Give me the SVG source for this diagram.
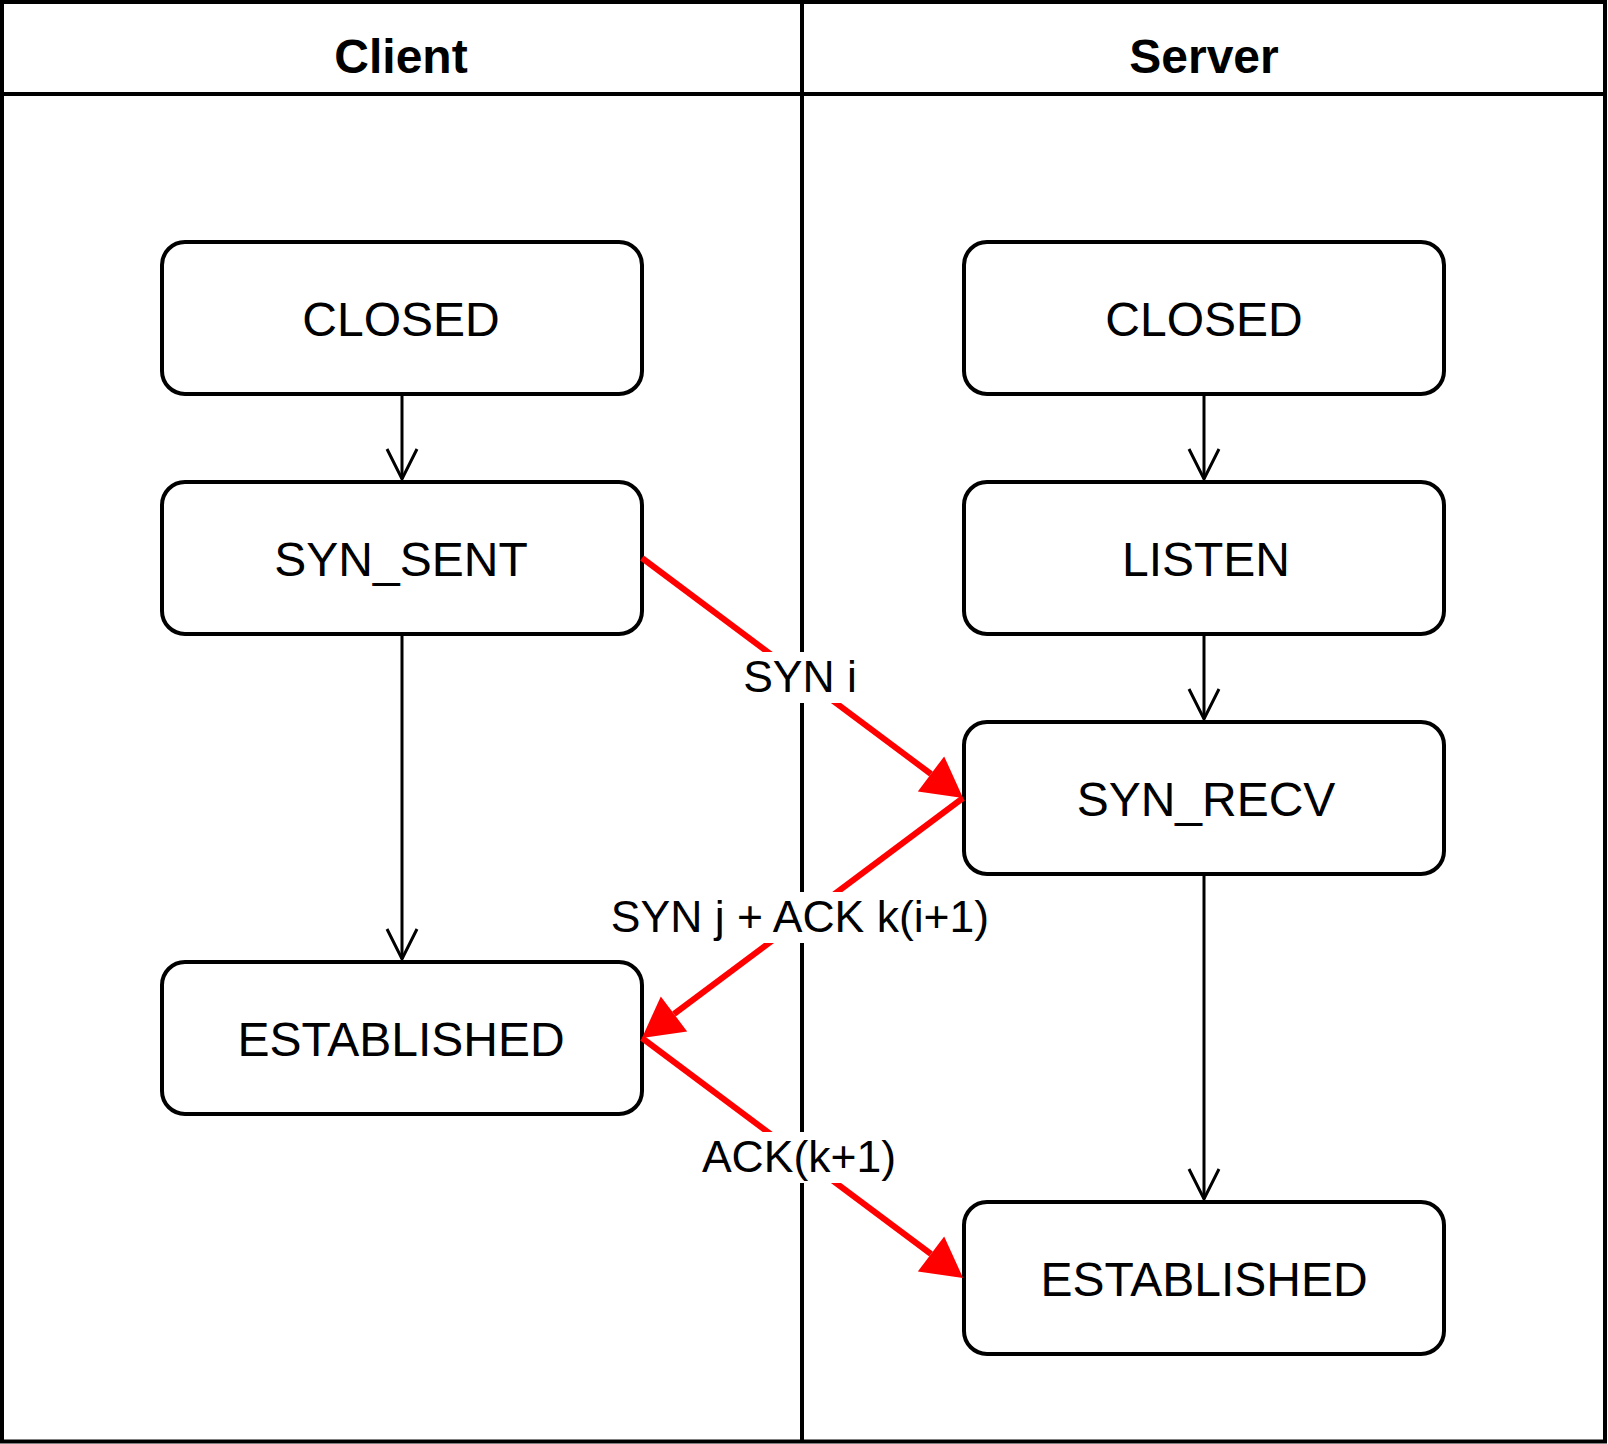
<svg xmlns="http://www.w3.org/2000/svg" width="1608" height="1444" viewBox="0 0 1608 1444">
  <style>
    .lane { fill: none; stroke: #000; stroke-width: 4; }
    .hdr { font-family: "Liberation Sans", Arial, sans-serif; font-weight: bold; font-size: 48px; text-anchor: middle; fill: #000; }
    .box { fill: #fff; stroke: #000; stroke-width: 4; }
    .btxt { font-family: "Liberation Sans", Arial, sans-serif; font-size: 48px; text-anchor: middle; fill: #000; }
    .conn { fill: none; stroke: #000; stroke-width: 3; }
    .msg { fill: none; stroke: #ff0000; stroke-width: 6; }
    .lbg { fill: #fff; stroke: none; }
    .ltxt { font-family: "Liberation Sans", Arial, sans-serif; font-size: 44.5px; text-anchor: middle; fill: #000; }
  </style>
  <defs>
    <marker id="open" markerUnits="userSpaceOnUse" markerWidth="40" markerHeight="40" refX="0" refY="0" orient="auto" overflow="visible">
      <path d="M-30,-15 L0,0 L-30,15" fill="none" stroke="#000" stroke-width="3"/>
    </marker>
    <marker id="block" markerUnits="userSpaceOnUse" markerWidth="50" markerHeight="50" refX="0" refY="0" orient="auto" overflow="visible">
      <path d="M0,-22 L40,0 L0,22 Z" fill="#ff0000" stroke="none"/>
    </marker>
  </defs>

  <g id="pool">
    <rect class="lane" x="2" y="2" width="1603" height="1439.5"/>
    <line class="lane" x1="2" y1="94" x2="1605" y2="94"/>
    <line class="lane" x1="802" y1="2" x2="802" y2="1441.5"/>
    <text class="hdr" x="401" y="73">Client</text>
    <text class="hdr" x="1204" y="73">Server</text>
  </g>

  <g id="c-closed"><rect class="box" x="162" y="242" width="480" height="152" rx="23" ry="23"/><text class="btxt" x="401" y="335.5">CLOSED</text></g>
  <g id="c-synsent"><rect class="box" x="162" y="482" width="480" height="152" rx="23" ry="23"/><text class="btxt" x="401" y="575.5">SYN_SENT</text></g>
  <g id="c-established"><rect class="box" x="162" y="962" width="480" height="152" rx="23" ry="23"/><text class="btxt" x="401" y="1055.5">ESTABLISHED</text></g>
  <g id="s-closed"><rect class="box" x="964" y="242" width="480" height="152" rx="23" ry="23"/><text class="btxt" x="1204" y="335.5">CLOSED</text></g>
  <g id="s-listen"><rect class="box" x="964" y="482" width="480" height="152" rx="23" ry="23"/><text class="btxt" x="1206" y="575.5">LISTEN</text></g>
  <g id="s-synrecv"><rect class="box" x="964" y="722" width="480" height="152" rx="23" ry="23"/><text class="btxt" x="1206" y="815.5">SYN_RECV</text></g>
  <g id="s-established"><rect class="box" x="964" y="1202" width="480" height="152" rx="23" ry="23"/><text class="btxt" x="1204" y="1295.5">ESTABLISHED</text></g>

  <g id="connectors">
    <line class="conn" x1="402" y1="396" x2="402" y2="479" marker-end="url(#open)"/>
    <line class="conn" x1="402" y1="636" x2="402" y2="959" marker-end="url(#open)"/>
    <line class="conn" x1="1204" y1="396" x2="1204" y2="479" marker-end="url(#open)"/>
    <line class="conn" x1="1204" y1="636" x2="1204" y2="719" marker-end="url(#open)"/>
    <line class="conn" x1="1204" y1="876" x2="1204" y2="1199" marker-end="url(#open)"/>

    <line class="msg" x1="642" y1="558" x2="931" y2="774" marker-end="url(#block)"/>
    <line class="msg" x1="963" y1="798" x2="674" y2="1014" marker-end="url(#block)"/>
    <line class="msg" x1="642" y1="1038" x2="931" y2="1254" marker-end="url(#block)"/>

    <g id="label-syn">
      <rect class="lbg" x="742" y="652" width="116" height="51"/>
      <text class="ltxt" x="800" y="692">SYN i</text>
    </g>
    <g id="label-synack">
      <rect class="lbg" x="609" y="892" width="382" height="51"/>
      <text class="ltxt" x="800" y="932">SYN j + ACK k(i+1)</text>
    </g>
    <g id="label-ack">
      <rect class="lbg" x="701" y="1132" width="196" height="51"/>
      <text class="ltxt" x="799" y="1172">ACK(k+1)</text>
    </g>
  </g>
</svg>
